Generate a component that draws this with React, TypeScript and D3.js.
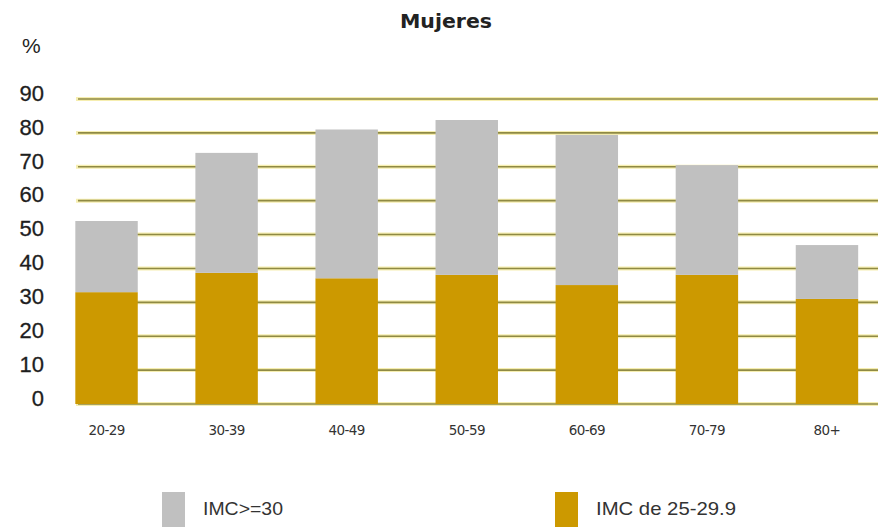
import React, { useEffect, useRef } from "react";
import * as d3 from "d3";

const categories = ["20-29", "30-39", "40-49", "50-59", "60-69", "70-79", "80+"];
const imcSobrepeso = [33, 38.7, 37.1, 38.1, 35.1, 38.1, 31];
const imcObesidad = [21, 35.4, 43.9, 45.7, 44.3, 32.4, 15.9];
const yTicks = [0, 10, 20, 30, 40, 50, 60, 70, 80, 90];
const legendItems = [
  { label: "IMC>=30", color: "#c0c0c0" },
  { label: "IMC de 25-29.9", color: "#cc9900" },
];

export default function App() {
  const ref = useRef<SVGSVGElement>(null);

  useEffect(() => {
    const width = 878;
    const height = 527;
    const svg = d3.select(ref.current).attr("width", width).attr("height", height);
    svg.selectAll("*").remove();

    const x = d3.scaleBand().domain(categories).range([46.5, 887]).paddingInner(0.48).paddingOuter(0.24);
    const y = d3.scaleLinear().domain([0, 90]).range([404, 99]);

    // grid
    const grid = svg.append("g");
    grid.selectAll(".halo").data(yTicks).join("line")
      .attr("x1", 76).attr("x2", width)
      .attr("y1", d => y(d)).attr("y2", d => y(d))
      .attr("stroke", "#f6eeb0").attr("stroke-width", 4);
    grid.selectAll(".gl").data(yTicks).join("line")
      .attr("x1", 78).attr("x2", width)
      .attr("y1", d => y(d)).attr("y2", d => y(d))
      .attr("stroke", "#8f8a44").attr("stroke-width", 1.6);

    // y labels
    svg.append("g").selectAll("text").data(yTicks).join("text")
      .attr("x", 44).attr("y", d => y(d) - 4)
      .attr("text-anchor", "end").attr("dominant-baseline", "middle")
      .attr("font-family", "Liberation Sans, Arial, sans-serif")
      .attr("font-size", 22).attr("fill", "#1e1e1e")
      .attr("stroke", "#1e1e1e").attr("stroke-width", 0.3)
      .text(d => d);

    svg.append("text").attr("x", 22).attr("y", 53)
      .attr("font-family", "Liberation Sans, Arial, sans-serif")
      .attr("font-size", 21).attr("fill", "#1e1e1e").text("%");

    // bars
    const bars = svg.append("g");
    bars.selectAll(".b25").data(categories).join("rect")
      .attr("x", d => x(d)!).attr("width", x.bandwidth())
      .attr("y", (d, i) => y(imcSobrepeso[i]))
      .attr("height", (d, i) => y(0) - y(imcSobrepeso[i]))
      .attr("fill", "#cc9900");
    bars.selectAll(".b30").data(categories).join("rect")
      .attr("x", d => x(d)!).attr("width", x.bandwidth())
      .attr("y", (d, i) => y(imcSobrepeso[i] + imcObesidad[i]))
      .attr("height", (d, i) => y(imcSobrepeso[i]) - y(imcSobrepeso[i] + imcObesidad[i]))
      .attr("fill", "#c0c0c0");

    // x axis labels
    const xAxis = svg.append("g").attr("transform", "translate(0, 421)")
      .call(d3.axisBottom(x).tickSize(0).tickPadding(4));
    xAxis.select(".domain").remove();
    xAxis.selectAll("text")
      .attr("font-family", "DejaVu Sans, Tahoma, sans-serif")
      .attr("font-size", 13.5).attr("fill", "#333")
      .attr("letter-spacing", "-0.6");

    // title
    svg.append("text").attr("x", 446).attr("y", 28)
      .attr("text-anchor", "middle")
      .attr("font-family", "DejaVu Sans, Verdana, sans-serif")
      .attr("font-weight", "bold").attr("font-size", 20).attr("fill", "#222")
      .attr("textLength", 92).attr("lengthAdjust", "spacingAndGlyphs")
      .text("Mujeres");

    // legend
    const lx = [162, 555];
    const leg = svg.append("g");
    leg.selectAll("rect").data(legendItems).join("rect")
      .attr("x", (d, i) => lx[i]).attr("y", 492)
      .attr("width", 23).attr("height", 36)
      .attr("fill", d => d.color);
    leg.selectAll("text").data(legendItems).join("text")
      .attr("x", (d, i) => lx[i] + 41).attr("y", 515)
      .attr("font-family", "Liberation Sans, Arial, sans-serif")
      .attr("font-size", 19).attr("fill", "#333")
      .attr("textLength", (d, i) => (i === 0 ? 80 : 140))
      .attr("lengthAdjust", "spacingAndGlyphs")
      .text(d => d.label);
  }, []);

  return <svg ref={ref} style={{ position: "absolute", left: 0, top: 0, display: "block", background: "#fff" }} />;
}
